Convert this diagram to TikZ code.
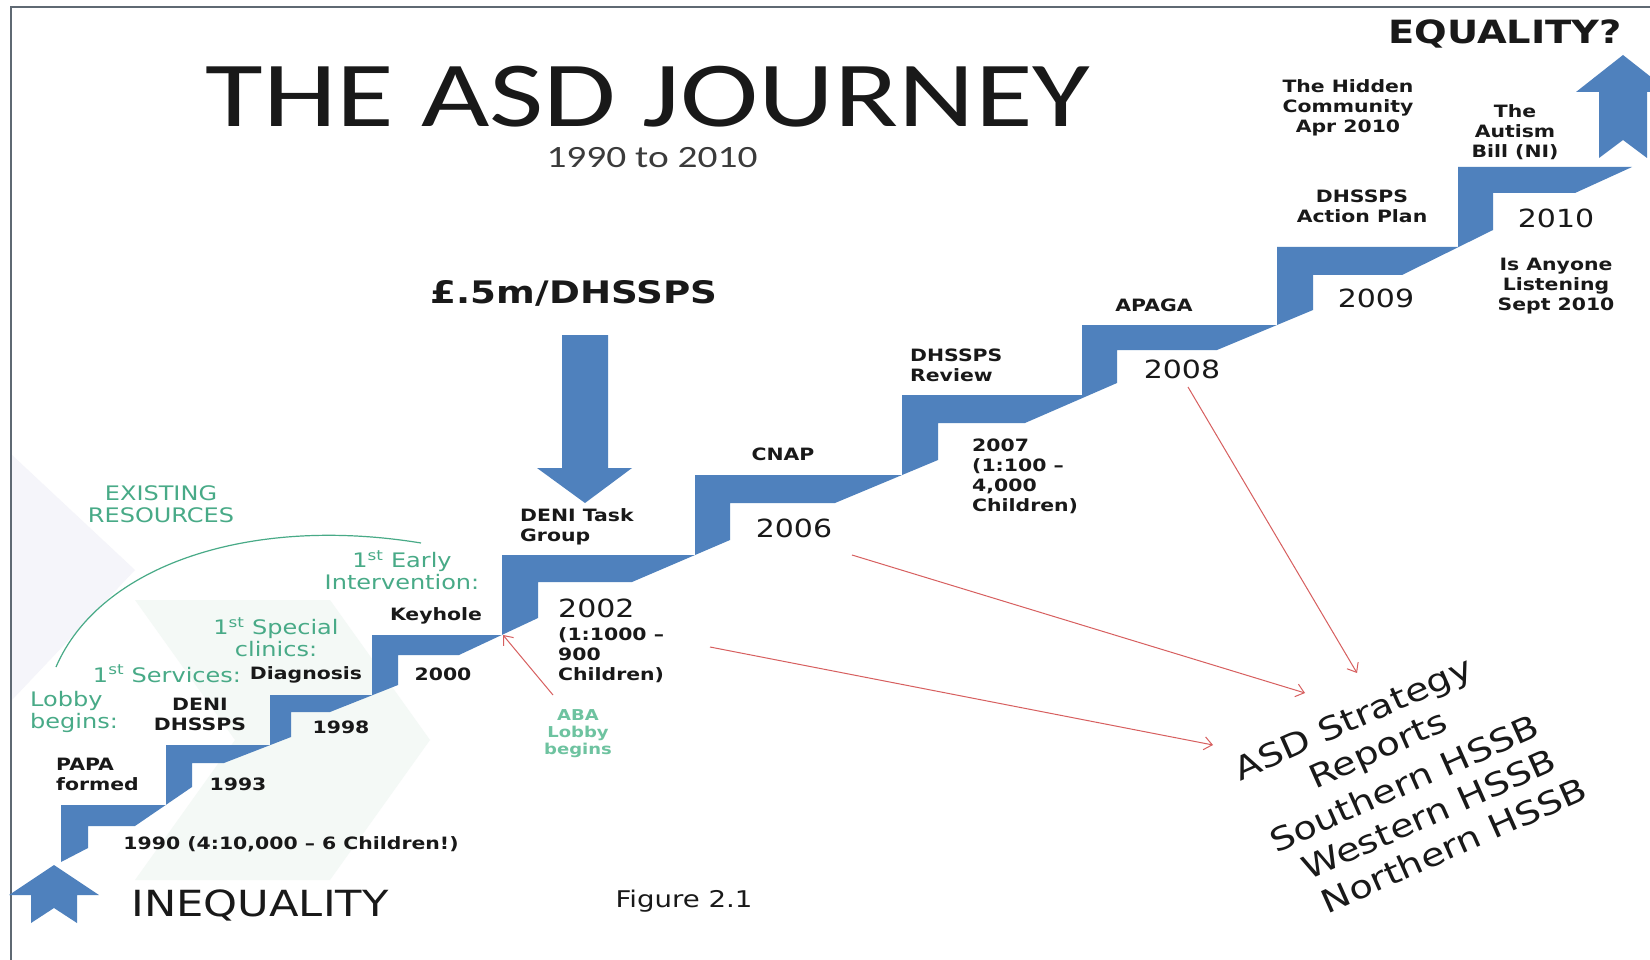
\documentclass[tikz,border=0pt]{standalone}
\usepackage{fontspec}
\usetikzlibrary{arrows.meta}
\newfontfamily\vfont[FakeStretch=1.2]{DejaVu Sans}
\newfontfamily\cfont[FakeStretch=1.27]{Carlito}
\definecolor{asdblue}{RGB}{79,129,189}
\definecolor{asdgreen}{RGB}{72,170,135}
\definecolor{abagreen}{RGB}{110,195,160}
\definecolor{asdred}{RGB}{215,95,95}
\definecolor{ink}{RGB}{25,25,25}
\definecolor{framegray}{RGB}{95,105,115}
\definecolor{wmlav}{RGB}{245,245,250}
\definecolor{wmgreen}{RGB}{244,249,246}

\tikzset{
  lbl/.style={font=\vfont\bfseries\fontsize{17}{20}\selectfont, text=ink, inner sep=0pt, align=center},
  yr/.style={font=\vfont\fontsize{25}{28}\selectfont, text=ink, inner sep=0pt},
  grn/.style={font=\vfont\fontsize{20}{22}\selectfont, text=asdgreen, inner sep=0pt, align=center},
  rep/.style={font=\vfont\fontsize{32}{36}\selectfont, text=ink, inner sep=0pt, rotate=24},
  redarr/.style={draw=asdred, line width=1pt, -{Straight Barb[length=8pt,width=13pt]}},
  bluearr/.style={fill=asdblue},
}

\begin{document}
\begin{tikzpicture}[x=1pt,y=-1pt]
    \useasboundingbox (0,0) rectangle (1650,960);
    \fill[white] (0,0) rectangle (1650,960);

    % faint background marks
    \fill[wmlav] (12,455) -- (135,570) -- (12,700) -- cycle;
    \fill[wmgreen] (135,600) -- (330,600) -- (430,740) -- (330,880) -- (135,880) -- (235,740) -- cycle;

    % frame
    \draw[framegray, line width=2pt] (1650,7) -- (11,7) -- (11,960);

    % the staircase
    \fill[asdblue] (61,862) -- (61,805) -- (166,805) -- (166,745) -- (270,745) -- (270,695)
        -- (372,695) -- (372,635) -- (502,635) -- (502,555) -- (695,555) -- (695,475)
        -- (902,475) -- (902,395) -- (1082,395) -- (1082,325) -- (1277,325) -- (1277,247)
        -- (1458,247) -- (1458,167) -- (1632,167)
        -- (1575,193) -- (1493,193) -- (1493,230) -- (1402,275) -- (1313,275) -- (1313,310)
        -- (1217,350) -- (1117,350) -- (1117,383) -- (1025,423) -- (938,423) -- (938,460)
        -- (835,503) -- (730,503) -- (730,540) -- (632,582) -- (538,582) -- (538,618)
        -- (459,655) -- (398,655) -- (398,685) -- (330,712) -- (291,712) -- (291,737)
        -- (224,763) -- (192,763) -- (192,787) -- (135,826) -- (88,826) -- (88,848) -- cycle;

    % big arrows
    \fill[bluearr] (54,865) -- (99,895) -- (77,895) -- (77,923) -- (54,908) -- (31,923) -- (31,895) -- (9,895) -- cycle;
    \fill[bluearr] (1623,55) -- (1670,92) -- (1647,92) -- (1647,158) -- (1623,140) -- (1599,158) -- (1599,92) -- (1576,92) -- cycle;
    \fill[bluearr] (562,335) -- (608,335) -- (608,468) -- (632,468) -- (585,503) -- (537,468) -- (562,468) -- cycle;

    % headings
    \node[font=\cfont\fontsize{93}{100}\selectfont, text=ink, inner sep=0pt, anchor=base] (title) at (648,127) {THE ASD JOURNEY};
    \node[font=\cfont\fontsize{31}{33}\selectfont, text=ink!85, inner sep=0pt, anchor=base] (span) at (652,168) {1990 to 2010};
    \node[font=\vfont\bfseries\fontsize{31}{34}\selectfont, text=ink, inner sep=0pt, anchor=base] (money) at (574,303) {£.5m/DHSSPS};
    \node[font=\vfont\fontsize{36}{38}\selectfont, text=ink, inner sep=0pt, anchor=base] (ineq) at (260,916) {INEQUALITY};
    \node[font=\vfont\bfseries\fontsize{32}{34}\selectfont, text=ink, inner sep=0pt, anchor=base] (eq) at (1505,44) {EQUALITY?};
    \node[font=\vfont\fontsize{23}{25}\selectfont, text=ink, inner sep=0pt, anchor=base] (fig) at (684,907) {Figure 2.1};

    % green notes
    \node[grn] (exist) at (161,504) {EXISTING\\RESOURCES};
    \node[grn] (early) at (402,570) {1\textsuperscript{st} Early\\Intervention:};
    \node[grn] (special) at (276,637) {1\textsuperscript{st} Special\\clinics:};
    \node[grn, anchor=base] (serv) at (167,682) {1\textsuperscript{st} Services:};
    \node[grn, align=left, anchor=west] (lobby) at (30,712) {Lobby\\begins:};
    \node[grn, font=\vfont\bfseries\fontsize{15}{17}\selectfont, text=abagreen] (aba) at (578,734) {ABA\\Lobby\\begins};
    \draw[asdgreen, line width=1.2pt] (56,667) .. controls (100,565) and (250,515) .. (421,543);

    % step labels
    \node[lbl, anchor=base] (keyhole) at (436,620) {Keyhole};
    \node[lbl, anchor=base] (diag) at (306,679) {Diagnosis};
    \node[lbl] (deni) at (200,714) {DENI\\DHSSPS};
    \node[lbl, align=left, anchor=west] (papa) at (56,774) {PAPA\\formed};
    \node[lbl, anchor=base] (y93) at (238,790) {1993};
    \node[lbl, anchor=base] (y98) at (341,733) {1998};
    \node[lbl, anchor=base] (y00) at (443,680) {2000};
    \node[lbl, anchor=base] (y90) at (291,849) {1990 (4:10,000 – 6 Children!)};
    \node[lbl, align=left, anchor=west] (task) at (520,527) {DENI Task\\Group};
    \node[yr, anchor=base west] (y02) at (558,617) {2002};
    \node[lbl, align=left, anchor=west] (ratio02) at (558,655) {(1:1000 –\\900\\Children)};
    \node[lbl, anchor=base] (cnap) at (783,460) {CNAP};
    \node[yr, anchor=base] (y06) at (794,537) {2006};
    \node[lbl, align=left, anchor=west] (review) at (910,365) {DHSSPS\\Review};
    \node[lbl, align=left, anchor=west] (y07) at (972,476) {2007\\(1:100 –\\4,000\\Children)};
    \node[lbl, anchor=base] (apaga) at (1154,312) {APAGA};
    \node[yr, anchor=base] (y08) at (1182,378) {2008};
    \node[lbl] (plan) at (1362,206) {DHSSPS\\Action Plan};
    \node[yr, anchor=base] (y09) at (1376,307) {2009};
    \node[lbl] (hidden) at (1348,108) {The Hidden\\Community\\Apr 2010};
    \node[lbl] (bill) at (1515,132) {The\\Autism\\Bill (NI)};
    \node[yr, anchor=base] (y10) at (1556,228) {2010};
    \node[lbl] (listen) at (1556,286) {Is Anyone\\Listening\\Sept 2010};

    % reports, one line per node
    \node[rep] (rep1) at (1354,721) {ASD Strategy};
    \node[rep] (rep2) at (1379,752) {Reports};
    \node[rep] (rep3) at (1404,783) {Southern HSSB};
    \node[rep] (rep4) at (1429,814) {Western HSSB};
    \node[rep] (rep5) at (1454,845) {Northern HSSB};

    % red pointers
    \coordinate (sABA) at (553,695);
    \coordinate (eABA) at (503,635);
    \coordinate (s02) at (710,647);
    \coordinate (e02) at (1213,745);
    \coordinate (s06) at (852,555);
    \coordinate (e06) at (1305,693);
    \coordinate (s08) at (1188,387);
    \coordinate (e08) at (1357,673);
    \draw[redarr] (sABA) -- (eABA);
    \draw[redarr] (s02) -- (e02);
    \draw[redarr] (s06) -- (e06);
    \draw[redarr] (s08) -- (e08);
\end{tikzpicture}
\end{document}
